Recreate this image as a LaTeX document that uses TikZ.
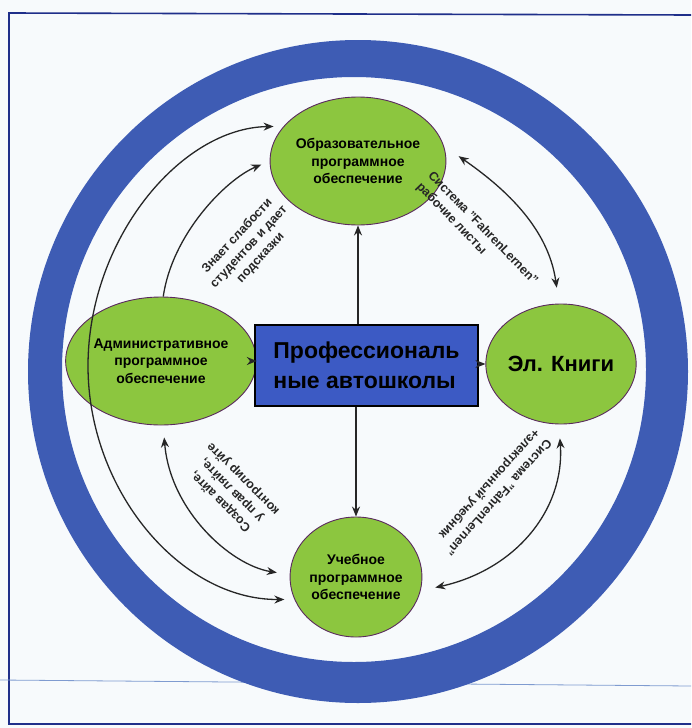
\documentclass[tikz,border=0pt]{standalone}
\usepackage{fontspec}
\setmainfont{Liberation Sans}
\usetikzlibrary{arrows.meta,shapes.geometric}
\definecolor{ringblue}{HTML}{3E5CB4}
\definecolor{boxblue}{HTML}{3C5AC4}
\definecolor{leaf}{HTML}{8CC63F}
\definecolor{rim}{HTML}{5A2A5E}
\definecolor{bg}{HTML}{F7FAFC}
\definecolor{frameblue}{HTML}{1F2F8A}
\definecolor{thinblue}{HTML}{7F9BD0}
\begin{document}
\begin{tikzpicture}[x=1pt,y=-1pt,
  bubble/.style={ellipse,draw=rim,line width=0.9pt,fill=leaf,inner sep=0pt,align=center,
    font=\bfseries\fontsize{14}{17.5}\selectfont},
  link/.style={line width=1.3pt,draw=black!85,-{Stealth[length=10pt,width=8pt]}},
  twolink/.style={line width=1.3pt,draw=black!85,{Stealth[length=10pt,width=8pt]}-{Stealth[length=10pt,width=8pt]}},
  lbl/.style={font=\bfseries\fontsize{12.5}{16}\selectfont,align=center,inner sep=0pt,text=black!85}]

\fill[bg] (0,0) rectangle (691,728);
\useasboundingbox (0,0) rectangle (691,728);
% frame
\draw[frameblue,line width=1.6pt] (691,15) -- (9,13) -- (9,724) -- (691,724);
\draw[thinblue,line width=0.8pt] (0,680) -- (691,686);
% ring
\fill[ringblue,even odd rule] (358,371.5) ellipse [x radius=330pt,y radius=331.5pt]
  (354,369.5) ellipse [x radius=292pt,y radius=292.5pt];

% nodes
\node[bubble,minimum width=130pt,minimum height=128pt] (T) at (358,161)
  {Образовательное\\программное\\обеспечение};
\node[bubble,minimum width=132pt,minimum height=128pt] (L) at (161,361)
  {Административное\\программное\\обеспечение};
\node[bubble,minimum width=132pt,minimum height=120pt,font=\bfseries\fontsize{22}{26}\selectfont] (R) at (561,364)
  {Эл. Книги};
\node[bubble,minimum width=122pt,minimum height=120pt] (B) at (356,577)
  {Учебное\\программное\\обеспечение};
\node[draw=black,line width=1.2pt,fill=boxblue,minimum width=223pt,minimum height=81pt,
  font=\bfseries\fontsize{23}{30}\selectfont,align=left] (C) at (366.5,365.5)
  {Профессиональ\\ные автошколы};

% straight connectors
\draw[link] (C.north -| T.south) -- (T.south);
\draw[link] (C.south -| B.north) -- (B.north);
\draw[link] (C.west |- L.east) -- (L.east);
\draw[link] (C.east |- R.west) -- (R.west);

% curved connectors
\draw[link,shorten >=9pt] (L.88) .. controls (172,235) and (225,180) .. (T.180);
\draw[twolink,shorten <=10pt,shorten >=10pt] (T.155) .. controls (180,128) and (88,240) .. (88,366)
  .. controls (88,490) and (180,600) .. (B.200);
\draw[twolink,shorten <=12pt,shorten >=13pt] (L.272) .. controls (170,510) and (230,565) .. (B.178);
\draw[twolink,shorten <=18pt,shorten >=16pt] (T.10) .. controls (500,185) and (548,225) .. (R.92);
\draw[twolink,shorten <=14pt,shorten >=15pt] (R.268) .. controls (565,510) and (515,570) .. (B.-12);

% labels
\node[lbl,rotate=47] (l1) at (249,247) {Знает слабости\\студентов и дает\\подсказки};
\node[lbl,rotate=-46,align=left] (l2) at (477,234) {Система "FahrenLernen"\\рабочие листы};
\node[lbl,rotate=135] (l3) at (232,490) {Создав айте,\\у прав ляйте,\\контролир уйте};
\node[lbl,rotate=228,align=left] (l4) at (492,492) {Система "FahrenLernen"\\+электронный учебник};
\end{tikzpicture}
\end{document}
